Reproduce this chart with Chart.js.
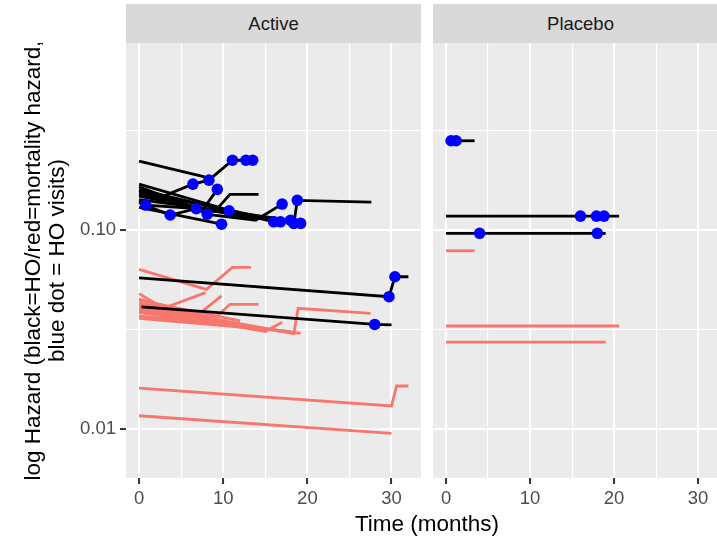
<!DOCTYPE html>
<html>
<head>
<meta charset="utf-8">
<script src="https://cdn.jsdelivr.net/npm/chart.js@4.4.1/dist/chart.umd.min.js"></script>
<style>
html, body { margin:0; padding:0; overflow:hidden; }
body { width:717px; height:541px; position:relative; background:#FFFFFF; font-family:"Liberation Sans", Arial, sans-serif; }
.strip { position:absolute; top:4px; height:39px; background:#D9D9D9; color:#1A1A1A; font-size:18.5px; line-height:39px; text-align:center; }
canvas { position:absolute; top:43px; }
#x-title { position:absolute; left:127px; width:600px; top:511px; text-align:center; font-size:22.5px; color:#000000; }
</style>
</head>
<body>
<div class="strip" style="left:126px;width:295px">Active</div>
<div class="strip" style="left:433px;width:295px">Placebo</div>
<canvas id="chart-active" width="421" height="498" style="left:0px;width:421px;height:498px"></canvas>
<canvas id="chart-placebo" width="284" height="498" style="left:433px;width:284px;height:498px"></canvas>
<div id="x-title">Time (months)</div>

<script>
// axis ticks
var xTickValues = [0, 10, 20, 30];
var xGridValues = [0, 5, 10, 15, 20, 25, 30];
var yTickValues = [0.01, 0.1];
var yTickLabels = ["0.01", "0.10"];
var yGridValues = [0.01, 0.0316, 0.1, 0.316];
var yTitleLines = ["log Hazard (black=HO/red=mortality hazard,", "blue dot = HO visits)"];

// Active arm: HO hazard (black), one array per subject
var activeHoTimes = [
	[0, 7.8],
	[0, 2.9, 6.4, 8.3, 11.1, 12.7, 13.5],
	[0, 7.6, 9.3],
	[0, 9.0, 10.8, 14.2],
	[0, 0.8, 10.7, 11.8],
	[0, 3.7, 6.8, 8.1, 14.0],
	[0, 9.8],
	[0, 14.0, 17.0],
	[0, 16.0, 16.8],
	[0, 18.0, 19.2],
	[0, 18.4, 18.8, 27.6],
	[0, 13.0],
	[0, 29.7, 30.4, 32.0],
	[0.3, 28.0, 30.0]
];
var activeHoValues = [
	[0.222, 0.185],
	[0.165, 0.148, 0.170, 0.178, 0.224, 0.224, 0.224],
	[0.158, 0.127, 0.160],
	[0.152, 0.124, 0.151, 0.151],
	[0.140, 0.1335, 0.125, 0.123],
	[0.137, 0.119, 0.128, 0.120, 0.112],
	[0.130, 0.107],
	[0.148, 0.113, 0.135],
	[0.160, 0.110, 0.110],
	[0.142, 0.112, 0.108],
	[0.155, 0.108, 0.141, 0.138],
	[0.170, 0.118],
	[0.0576, 0.0463, 0.0583, 0.0583],
	[0.0412, 0.0336, 0.0334]
];

// Active arm: HO visits (blue dots)
var activeVisitTimes = [6.4, 8.3, 11.1, 12.7, 13.5, 9.3, 0.8, 10.7, 3.7, 6.8, 8.1, 9.8, 17.0, 16.0, 16.8, 18.0, 19.2, 18.4, 18.8, 29.7, 30.4, 28.0];
var activeVisitValues = [0.170, 0.178, 0.224, 0.224, 0.224, 0.160, 0.1335, 0.125, 0.119, 0.128, 0.120, 0.107, 0.135, 0.110, 0.110, 0.112, 0.108, 0.108, 0.141, 0.0463, 0.0583, 0.0336];

// Active arm: mortality hazard (red)
var activeMortTimes = [
	[0, 8.0, 11.1, 13.3],
	[0, 2.9, 7.9],
	[0, 7.0, 9.8],
	[0, 9.2, 10.8, 14.2],
	[0, 18.4, 18.9, 27.5],
	[0, 16.8],
	[0, 15.0, 17.0],
	[0, 19.2],
	[0, 11.0],
	[0, 10.0, 13.0],
	[0, 18.0],
	[0, 12.0],
	[0, 30.0, 30.6, 32.0],
	[0, 30.0]
];
var activeMortValues = [
	[0.0635, 0.0504, 0.065, 0.065],
	[0.048, 0.0405, 0.0485],
	[0.045, 0.0375, 0.0467],
	[0.043, 0.0367, 0.0424, 0.0424],
	[0.042, 0.0302, 0.0405, 0.0382],
	[0.041, 0.031],
	[0.040, 0.031, 0.0345],
	[0.039, 0.0303],
	[0.0385, 0.0335],
	[0.037, 0.034, 0.033],
	[0.036, 0.031],
	[0.0445, 0.035],
	[0.0161, 0.0131, 0.0165, 0.0165],
	[0.0117, 0.00955]
];

// Placebo arm
var placeboHoTimes = [[0, 3.4], [0, 20.6], [0, 19.0]];
var placeboHoValues = [[0.2805, 0.2805], [0.1175, 0.1175], [0.0963, 0.0963]];
var placeboVisitTimes = [0.6, 1.2, 16.0, 17.9, 18.8, 4.0, 18.0];
var placeboVisitValues = [0.2805, 0.2805, 0.1175, 0.1175, 0.1175, 0.0963, 0.0963];
var placeboMortTimes = [[0, 3.4], [0, 20.6], [0, 19.0]];
var placeboMortValues = [[0.0787, 0.0787], [0.033, 0.033], [0.0274, 0.0274]];

var tickFont = { family: "'Liberation Sans', Arial, sans-serif", size: 18.5 };
var tickColor = "#4D4D4D";

// grey panel behind the grid
var panelBackground = {
	id: "panelBackground",
	beforeDraw: function(chart)
	{
		var a = chart.chartArea;
		chart.ctx.save();
		chart.ctx.fillStyle = "#EBEBEB";
		chart.ctx.fillRect(a.left, a.top, a.right - a.left, a.bottom - a.top);
		chart.ctx.restore();
	}
};

function toPoints(times, values)
{
	var pts = [];
	for (var i = 0; i < times.length; i++)
	{
		pts.push({ x: times[i], y: values[i] });
	}
	return pts;
}

function LineSets(timesList, valuesList, color, order)
{
	var sets = [];
	for (var i = 0; i < timesList.length; i++)
	{
		sets.push({
			data: toPoints(timesList[i], valuesList[i]),
			borderColor: color,
			borderWidth: 2.8,
			pointRadius: 0,
			tension: 0,
			fill: false,
			order: order
		});
	}
	return sets;
}

function DotSet(times, values)
{
	return {
		data: toPoints(times, values),
		showLine: false,
		pointRadius: 5.8,
		pointBackgroundColor: "#0000FF",
		pointBorderWidth: 0,
		order: 0
	};
}

function MakePanel(canvasId, hoTimes, hoValues, mortTimes, mortValues, visitTimes, visitValues, xMax, showY)
{
	var datasets = [DotSet(visitTimes, visitValues)]
		.concat(LineSets(hoTimes, hoValues, "#000000", 1))
		.concat(LineSets(mortTimes, mortValues, "#F8766D", 2));

	new Chart(document.getElementById(canvasId), {
		type: "line",
		data: { datasets: datasets },
		plugins: [panelBackground],
		options: {
			responsive: false,
			animation: false,
			devicePixelRatio: 1,
			events: [],
			layout: { padding: 0, autoPadding: false },
			plugins: { legend: { display: false }, tooltip: { enabled: false } },
			scales: {
				x: {
					type: "linear",
					min: -1.55,
					max: xMax,
					afterBuildTicks: function(scale) { scale.ticks = xGridValues.map(function(v) { return { value: v }; }); },
					afterFit: function(scale)
					{
						scale.height = 63;
						scale.paddingLeft = 0;
						scale.paddingRight = 0;
					},
					border: { display: false },
					grid: {
						color: "#FFFFFF",
						lineWidth: function(ctx) { return xTickValues.indexOf(ctx.tick.value) >= 0 ? 2.1 : 1.1; },
						tickLength: 6,
						tickWidth: 2,
						tickColor: function(ctx) { return xTickValues.indexOf(ctx.tick.value) >= 0 ? "#333333" : "rgba(0,0,0,0)"; }
					},
					ticks: {
						font: tickFont,
						color: tickColor,
						padding: 4,
						maxRotation: 0,
						autoSkip: false,
						callback: function(value) { return xTickValues.indexOf(value) >= 0 ? String(value) : ""; }
					}
				},
				y: {
					type: "logarithmic",
					min: 0.0057,
					max: 0.868,
					afterBuildTicks: function(scale) { scale.ticks = yGridValues.map(function(v) { return { value: v }; }); },
					afterFit: function(scale)
					{
						scale.width = showY ? 126 : 0;
						scale.paddingTop = 0;
						scale.paddingBottom = 0;
					},
					border: { display: false },
					grid: {
						color: "#FFFFFF",
						lineWidth: function(ctx) { return yTickValues.indexOf(ctx.tick.value) >= 0 ? 2.1 : 1.1; },
						drawTicks: showY,
						tickLength: 6,
						tickWidth: 2,
						tickColor: function(ctx) { return yTickValues.indexOf(ctx.tick.value) >= 0 ? "#333333" : "rgba(0,0,0,0)"; }
					},
					ticks: {
						display: showY,
						font: tickFont,
						color: tickColor,
						padding: 4,
						autoSkip: false,
						callback: function(value)
						{
							var i = yTickValues.indexOf(value);
							return i >= 0 ? yTickLabels[i] : "";
						}
					},
					title: {
						display: showY,
						text: yTitleLines,
						color: "#000000",
						font: { family: "'Liberation Sans', Arial, sans-serif", size: 22.5, lineHeight: 1.05 },
						padding: { top: 22, bottom: 0 }
					}
				}
			}
		}
	});
}

MakePanel("chart-active", activeHoTimes, activeHoValues, activeMortTimes, activeMortValues, activeVisitTimes, activeVisitValues, 33.5, true);
MakePanel("chart-placebo", placeboHoTimes, placeboHoValues, placeboMortTimes, placeboMortValues, placeboVisitTimes, placeboVisitValues, 32.25, false);
</script>
</body>
</html>
